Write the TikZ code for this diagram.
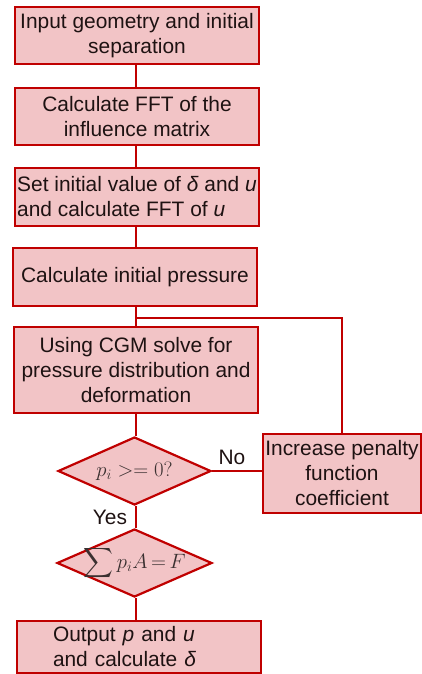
\documentclass[tikz,border=0pt]{standalone}
\usepackage{amsmath}
\usepackage{fontspec}
\setmainfont{Liberation Sans}
\usetikzlibrary{shapes.geometric}
\definecolor{boxfill}{HTML}{F2C4C6}
\definecolor{boxline}{HTML}{C00000}
\definecolor{txt}{HTML}{1E1212}
\definecolor{mtxt}{HTML}{3A3030}
\begin{document}
\begin{tikzpicture}[x=1pt,y=-1pt,
  every node/.style={text=txt, font=\fontsize{20.9}{25}\selectfont},
  procbox/.style={draw=boxline, fill=boxfill, line width=2.2pt, rectangle,
    minimum width=244pt, inner sep=1pt, align=center},
  decbox/.style={draw=boxline, fill=boxfill, line width=2.2pt, diamond,
    aspect=2.25, inner sep=0pt, text=mtxt},
  conn/.style={draw=boxline, line width=2.2pt}]
\useasboundingbox (0,0) rectangle (422,674);
\coordinate (axis) at (136,0);
\coordinate (junc) at (136,318);

\node[procbox, minimum height=57pt] (b1) at (137,35.5) {Input geometry and initial\\separation};
\node[procbox, minimum height=57pt] (b2) at (137,116.5) {Calculate FFT of the\\influence matrix};
\node[procbox, minimum height=58pt, align=left] (b3) at (137,197) {Set initial value of \textit{δ} and \textit{u}\\and calculate FFT of \textit{u}};
\node[procbox, minimum height=58pt] (b4) at (135,277) {Calculate initial pressure};
\node[procbox, minimum height=86pt] (b5) at (136,370) {Using CGM solve for\\pressure distribution and\\deformation};
\node[decbox, minimum width=153pt, minimum height=68pt] (d1) at (134.5,471) {\makebox[0pt]{$p_i >= 0?$}};
\node[procbox, minimum width=158pt, minimum height=79pt] (pen) at (342,473.5) {Increase penalty\\function\\coefficient};
\node[decbox, minimum width=155pt, minimum height=68pt] (d2) at (134.5,563) {\makebox[0pt]{$\displaystyle\sum p_iA\,{=}\,F$}};
\node[procbox, minimum height=52pt, align=left, text width=172pt, inner xsep=36pt, inner ysep=1pt] (out) at (139,647) {Output \textit{p} and \textit{u}\\and calculate \textit{δ}};

\node (no) at (232,457) {No};
\node (yes) at (110,517) {Yes};

\draw[conn] (axis |- b1.south) -- (axis |- b2.north);
\draw[conn] (axis |- b2.south) -- (axis |- b3.north);
\draw[conn] (axis |- b3.south) -- (axis |- b4.north);
\draw[conn] (axis |- b4.south) -- (axis |- b5.north);
\draw[conn] (axis |- b5.south) -- (axis |- d1.north);
\draw[conn] (axis |- d1.south) -- (axis |- d2.north);
\draw[conn] (axis |- d2.south) -- (axis |- out.north);
\draw[conn] (d1.east) -- (pen.west |- d1.east);
\draw[conn] (pen.north) |- (junc);
\end{tikzpicture}
\end{document}
